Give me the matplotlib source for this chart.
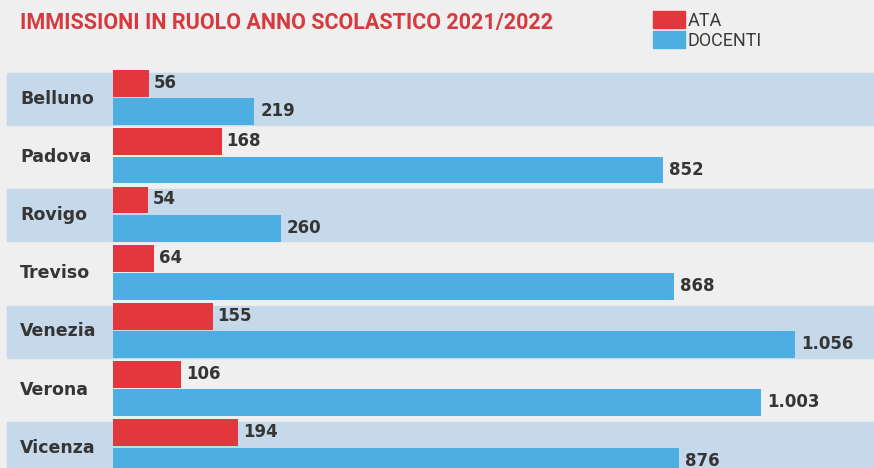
import matplotlib.pyplot as plt
from matplotlib.patches import Patch

# data
province = ["Belluno", "Padova", "Rovigo", "Treviso", "Venezia", "Verona", "Vicenza"]
ata = [56, 168, 54, 64, 155, 106, 194]
docenti = [219, 852, 260, 868, 1056, 1003, 876]

RED = "#e2383d"
BLUE = "#4daee1"
BAND = "#c6d9ea"
BG = "#efefef"
TXT = "#353535"


def fmt(v):
    # italian thousands separator
    return f"{v:,}".replace(",", ".")


fig = plt.figure(figsize=(8.74, 4.68), dpi=100, facecolor=BG)
ax = fig.add_axes([0, 0, 1, 1])
ax.set_facecolor(BG)

# 0.646 px per unit, bars start at x=113px
ax.set_xlim(-113 / 0.646, (874 - 113) / 0.646)
ax.set_ylim((468 - 97.5) / 58.2, -97.5 / 58.2)
ax.axis("off")

for i, name in enumerate(province):
    if i % 2 == 0:
        ax.axhspan(i - 0.42, i + 0.47, xmin=7 / 874, xmax=1, color=BAND, zorder=0)
    ax.text(-144, i + 0.02, name, fontsize=12.5, fontweight="bold", color=TXT,
            va="center", ha="left")

y = list(range(len(province)))
ax.barh([v - 0.24 for v in y], ata, height=0.46, color=RED, zorder=2)
ax.barh([v + 0.245 for v in y], docenti, height=0.46, color=BLUE, zorder=2)

for i in y:
    ax.text(ata[i] + 7, i - 0.25, fmt(ata[i]), fontsize=12, fontweight="bold",
            color=TXT, va="center", ha="left")
    ax.text(docenti[i] + 9, i + 0.24, fmt(docenti[i]), fontsize=12, fontweight="bold",
            color=TXT, va="center", ha="left")

fig.text(20 / 874, 1 - 23 / 468, "IMMISSIONI IN RUOLO ANNO SCOLASTICO 2021/2022",
         fontsize=15.5, fontweight="bold", color="#d63a3f", va="center", ha="left",
         family=["Roboto", "DejaVu Sans"])

handles = [Patch(color=RED, label="ATA"), Patch(color=BLUE, label="DOCENTI")]
leg = fig.legend(handles=handles, loc="upper left", bbox_to_anchor=(653 / 874, 1 - 11 / 468),
                 frameon=False, handlelength=1.75, handleheight=1.05,
                 handletextpad=0.15, labelspacing=0.1, borderpad=0, borderaxespad=0,
                 prop={"family": ["Roboto", "DejaVu Sans"], "size": 13})
for t in leg.get_texts():
    t.set_color("#3a3a3a")

fig.savefig("out.png", dpi=100, facecolor=BG)
